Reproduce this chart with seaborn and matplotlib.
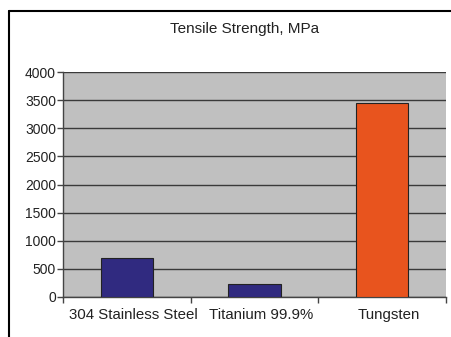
import matplotlib
matplotlib.use("Agg")
import matplotlib.pyplot as plt
import seaborn as sns
import pandas as pd
from matplotlib.lines import Line2D
import matplotlib.transforms as mtransforms

materials = ["304 Stainless Steel", "Titanium 99.9%", "Tungsten"]
strength = [690, 240, 3450]
colors = ["#302A80", "#302A80", "#E8541E"]
yticks = [0, 500, 1000, 1500, 2000, 2500, 3000, 3500, 4000]

sns.set_theme(style="white")
plt.rcParams['font.family'] = ['Liberation Sans', 'DejaVu Sans']

df = pd.DataFrame({"material": materials, "strength": strength})

fig = plt.figure(figsize=(4.52, 3.37), dpi=100)
fig.patch.set_facecolor("white")
ax = fig.add_axes([63/452, 1-297/337, (446-63)/452, (297-72)/337])
ax.set_facecolor("#C0C0C0")

sns.barplot(data=df, x="material", y="strength", hue="material",
            palette=colors, saturation=1, width=0.41, edgecolor="#222222", linewidth=0.8,
            legend=False, ax=ax, zorder=3)

ax.set_xlim(-0.5, 2.5)
ax.set_ylim(0, 4000)
ax.set_yticks(yticks)
ax.set_yticklabels([str(v) for v in yticks], fontsize=10, color="#222222")
ax.yaxis.grid(True, color="#3a3a3a", linewidth=1.0, zorder=1)
ax.set_axisbelow(True)
ax.set_xlabel("")
ax.set_ylabel("")

# x ticks at category boundaries, labels at centers
ax.set_xticks([-0.5, 0.5, 1.5, 2.5])
ax.set_xticklabels([])
ax.set_xticks([0, 1, 2], minor=True)
ax.set_xticklabels(materials, minor=True, fontsize=10.8, color="#222222")
ax.tick_params(axis="x", which="major", length=4, width=1, color="#444444", direction="out", bottom=True)
ax.tick_params(axis="x", which="minor", length=0, pad=8)
ax.tick_params(axis="y", length=4, width=1, color="#444444", direction="out", left=True, pad=1)
offset = mtransforms.ScaledTranslation(7/100, 0, fig.dpi_scale_trans)
for lbl in ax.xaxis.get_minorticklabels():
    lbl.set_transform(lbl.get_transform() + offset)

for side in ["top", "right"]:
    ax.spines[side].set_visible(False)
for side in ["left", "bottom"]:
    ax.spines[side].set_color("#444444")
    ax.spines[side].set_linewidth(1.0)

fig.text(245/452, 1-29/337, "Tensile Strength, MPa", ha="center", va="center",
         fontsize=11, color="#222222")

# outer chart border (left and top)
fig.add_artist(Line2D([9/452, 9/452], [0, 1-11/337], transform=fig.transFigure, color="black", lw=1.5))
fig.add_artist(Line2D([9/452, 1], [1-11/337, 1-11/337], transform=fig.transFigure, color="black", lw=1.5))

fig.savefig("out.png", dpi=100)
